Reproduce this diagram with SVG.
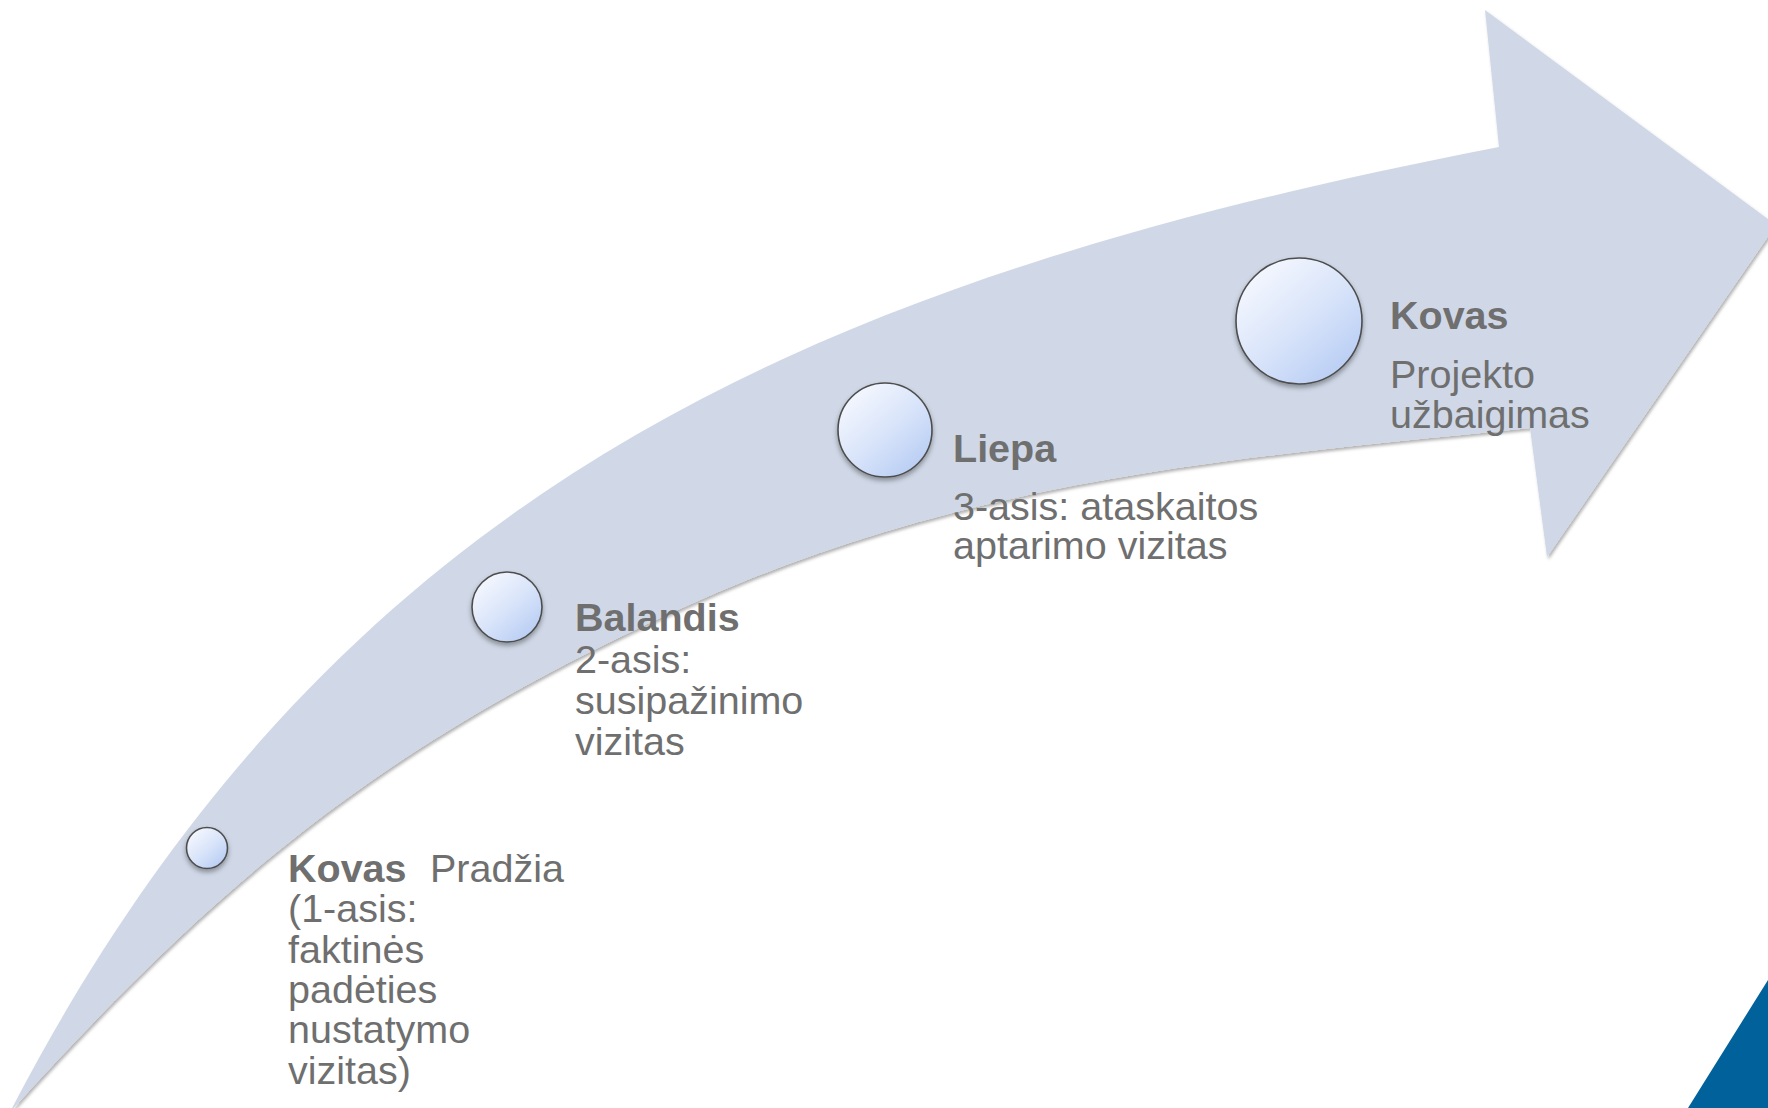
<svg xmlns="http://www.w3.org/2000/svg" width="1768" height="1108" viewBox="0 0 1768 1108">
  <defs>
    <style>
      .lbl { font-family: "Liberation Sans", Arial, sans-serif; font-size: 39.5px; fill: #6F6F6F; }
      .b { font-weight: bold; }
      .dot { fill: url(#dotGrad); stroke: #4E4E4E; stroke-width: 1.6; filter: url(#dotShadow); }
    </style>
    <linearGradient id="dotGrad" x1="0.15" y1="0.1" x2="0.85" y2="0.9">
      <stop offset="0" stop-color="#F4F7FE"/>
      <stop offset="0.5" stop-color="#DAE5FA"/>
      <stop offset="1" stop-color="#B9CEF4"/>
    </linearGradient>
    <filter id="dotShadow" x="-30%" y="-30%" width="160%" height="170%">
      <feDropShadow dx="0" dy="3" stdDeviation="2.5" flood-color="#000" flood-opacity="0.35"/>
    </filter>
    <filter id="arrowShadow" x="-5%" y="-5%" width="110%" height="110%">
      <feDropShadow dx="1.5" dy="2.5" stdDeviation="1.8" flood-color="#000" flood-opacity="0.3"/>
    </filter>
  </defs>

  <rect width="1768" height="1108" fill="#FFFFFF"/>

  <g id="connectors">
    <path id="timeline-arrow" fill="#D0D8E7" filter="url(#arrowShadow)" d="
      M 10,1112
      C 334,487 813,280 1499,147
      L 1485,10
      L 1776,225
      L 1547,557
      L 1530,428
      C 1231.5,458 974.5,478.8 700,600
      C 379.8,741.4 213,888 10,1112 Z"/>
  </g>

  <g id="corner-accent">
    <polygon points="1688,1108 1768,980 1768,1108" fill="#00619B"/>
  </g>

  <g id="node-kovas-start">
    <circle class="dot" cx="207" cy="848" r="20.5"/>
    <text class="lbl" x="288" y="882"><tspan class="b">Kovas</tspan><tspan x="430">Pradžia</tspan></text>
    <text class="lbl" x="288" y="922">(1-asis:</text>
    <text class="lbl" x="288" y="963">faktinės</text>
    <text class="lbl" x="288" y="1003">padėties</text>
    <text class="lbl" x="288" y="1043">nustatymo</text>
    <text class="lbl" x="288" y="1084">vizitas)</text>
  </g>

  <g id="node-balandis">
    <circle class="dot" cx="507" cy="607" r="35"/>
    <text class="lbl b" x="575" y="631">Balandis</text>
    <text class="lbl" x="575" y="673">2-asis:</text>
    <text class="lbl" x="575" y="714">susipažinimo</text>
    <text class="lbl" x="575" y="755">vizitas</text>
  </g>

  <g id="node-liepa">
    <circle class="dot" cx="885" cy="430" r="47"/>
    <text class="lbl b" x="953" y="462">Liepa</text>
    <text class="lbl" x="953" y="520">3-asis: ataskaitos</text>
    <text class="lbl" x="953" y="559">aptarimo vizitas</text>
  </g>

  <g id="node-kovas-end">
    <circle class="dot" cx="1299" cy="321" r="63"/>
    <text class="lbl b" x="1390" y="329">Kovas</text>
    <text class="lbl" x="1390" y="388">Projekto</text>
    <text class="lbl" x="1390" y="428">užbaigimas</text>
  </g>
</svg>
